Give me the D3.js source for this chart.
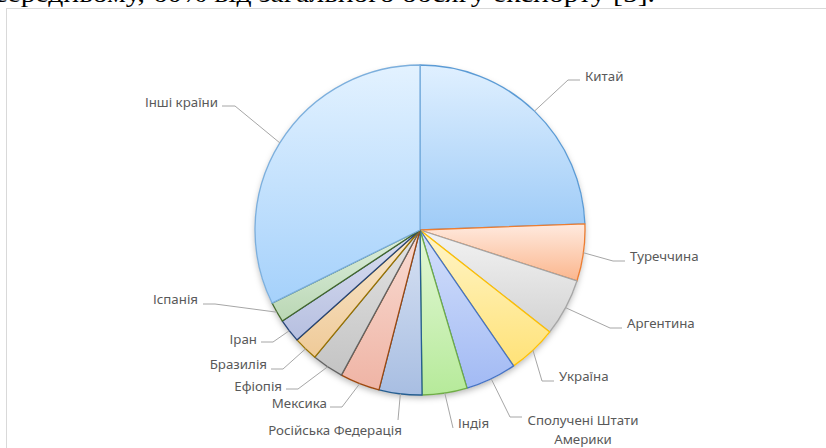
<!DOCTYPE html>
<html>
<head>
<meta charset="utf-8">
<script src="https://cdn.jsdelivr.net/npm/d3@7"></script>
<style>
  body { margin: 0; background: #fff; }
  svg { display: block; }
  .lbl { font-family: "Noto Sans", "Open Sans", sans-serif; font-size: 13.3px; fill: #595959; }
</style>
</head>
<body>
<div id="chart"></div>
<script>
var svgWidth = 826;
var svgHeight = 448;

// data (share of export, %)
var countries = ["Китай", "Туреччина", "Аргентина", "Україна", "Сполучені Штати Америки", "Індія",
  "Російська Федерація", "Мексика", "Ефіопія", "Бразилія", "Іран", "Іспанія", "Інші країни"];
var shares = [24.4, 5.6, 5.6, 4.8, 5.0, 4.4, 4.2, 3.9, 3.1, 2.4, 2.3, 2.0, 32.3];

// slice styles: outline, gradient top, gradient bottom
var strokes = ["#5b9bd5", "#ed7d31", "#a5a5a5", "#ffc000", "#4472c4", "#70ad47",
  "#255e91", "#9e480e", "#636363", "#997300", "#264478", "#43682b", "#7cafdd"];
var topFills = ["#e0f0ff", "#ffeadf", "#f3f3f3", "#fff5c8", "#d4e0fb", "#e4f8d8",
  "#d8e2f3", "#f9dcd3", "#e3e3e3", "#f9e8cf", "#dadff1", "#deefdf", "#e3f2ff"];
var bottomFills = ["#9ecbf7", "#fbb68d", "#d3d3d3", "#ffe278", "#a2baf4", "#b6ea9a",
  "#a8bee2", "#efb4a5", "#c4c4c4", "#efca98", "#b6bfe0", "#bad7b4", "#a5d1fb"];

// label layout: leader elbow, leader end, text anchor point
var labelLayout = [
  { elbow: [568, 80], end: [580, 80], text: [585, 81], anchor: "start" },
  { elbow: [613, 261], end: [625, 261], text: [630, 261], anchor: "start" },
  { elbow: [610, 328], end: [622, 328], text: [627, 328], anchor: "start" },
  { elbow: [542, 381], end: [554, 381], text: [559, 381], anchor: "start" },
  { elbow: [510, 417], end: [522, 417], text: [583, 425], anchor: "middle", lines: ["Сполучені Штати", "Америки"] },
  { elbow: [453, 428], end: [453, 428], text: [458, 428], anchor: "start" },
  { elbow: [398, 420], end: [398, 420], text: [335, 435], anchor: "middle" },
  { elbow: [342, 407], end: [330, 407], text: [327, 408], anchor: "end" },
  { elbow: [298, 389], end: [286, 389], text: [282, 391], anchor: "end" },
  { elbow: [283, 369], end: [271, 369], text: [267, 369], anchor: "end" },
  { elbow: [273, 342], end: [261, 342], text: [257, 344], anchor: "end" },
  { elbow: [215, 304], end: [203, 304], text: [198, 304], anchor: "end" },
  { elbow: [235, 106], end: [222, 106], text: [218, 107], anchor: "end" }
];

var center = { x: 420, y: 230 };
var radius = 165;

var svg = d3.select("#chart")
  .append("svg")
  .attr("width", svgWidth)
  .attr("height", svgHeight);

// chart frame
svg.append("rect")
  .attr("x", 6.5)
  .attr("y", 8.5)
  .attr("width", 840)
  .attr("height", 460)
  .attr("fill", "#fff")
  .attr("stroke", "#d9d9d9");

// text of the document above the chart, cut by the page edge
svg.append("text")
  .attr("x", -6)
  .attr("y", 2)
  .attr("font-family", "Liberation Serif, Times New Roman, serif")
  .attr("font-size", 26)
  .attr("fill", "#000")
  .attr("textLength", 661)
  .attr("lengthAdjust", "spacingAndGlyphs")
  .text("середньому, 60% від загального обсягу експорту [5].");

var defs = svg.append("defs");

var shadow = defs.append("filter")
  .attr("id", "shadow")
  .attr("x", "-20%").attr("y", "-20%")
  .attr("width", "140%").attr("height", "140%");
shadow.append("feDropShadow")
  .attr("dx", 0).attr("dy", 3)
  .attr("stdDeviation", 3)
  .attr("flood-color", "#000")
  .attr("flood-opacity", 0.28);

countries.forEach(function(c, i) {
  var g = defs.append("linearGradient")
    .attr("id", "grad" + i)
    .attr("x1", 0).attr("y1", 0).attr("x2", 0).attr("y2", 1);
  g.append("stop").attr("offset", "0%").attr("stop-color", topFills[i]);
  g.append("stop").attr("offset", "100%").attr("stop-color", bottomFills[i]);
});

var pie = d3.pie().sort(null).value(d => d);
var arcs = pie(shares);

var arc = d3.arc().innerRadius(0).outerRadius(radius);

var chartGroup = svg.append("g")
  .attr("transform", `translate(${center.x}, ${center.y})`);

// shadow under the whole pie
chartGroup.append("circle")
  .attr("r", radius)
  .attr("fill", "#fff")
  .attr("filter", "url(#shadow)");

chartGroup.selectAll("path.slice")
  .data(arcs)
  .enter()
  .append("path")
  .attr("class", "slice")
  .attr("d", arc)
  .attr("fill", (d, i) => `url(#grad${i})`)
  .attr("stroke", (d, i) => strokes[i])
  .attr("stroke-width", 1.3)
  .attr("stroke-linejoin", "round");

// leader lines start on the rim at the middle of each slice
var labelGroup = svg.append("g");

arcs.forEach(function(d, i) {
  var mid = (d.startAngle + d.endAngle) / 2;
  var sx = center.x + radius * Math.sin(mid);
  var sy = center.y - radius * Math.cos(mid);
  var L = labelLayout[i];

  labelGroup.append("polyline")
    .attr("points", [[sx, sy], L.elbow, L.end].map(p => p.join(",")).join(" "))
    .attr("fill", "none")
    .attr("stroke", "#a6a6a6")
    .attr("stroke-width", 1);

  var t = labelGroup.append("text")
    .attr("class", "lbl")
    .attr("x", L.text[0])
    .attr("y", L.text[1])
    .attr("text-anchor", L.anchor);

  var lines = L.lines || [countries[i]];
  lines.forEach(function(line, k) {
    t.append("tspan")
      .attr("x", L.text[0])
      .attr("dy", k === 0 ? 0 : 19)
      .text(line);
  });
});
</script>
</body>
</html>
